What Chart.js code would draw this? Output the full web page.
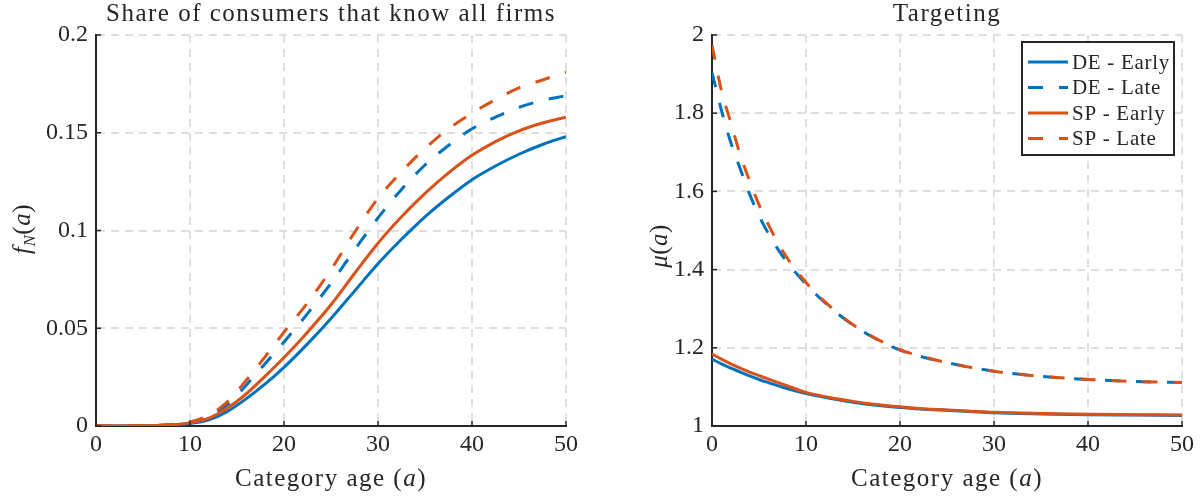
<!DOCTYPE html>
<html>
<head>
<meta charset="utf-8">
<script src="https://cdn.jsdelivr.net/npm/chart.js@4.4.1/dist/chart.umd.min.js"></script>
<style>
    body { margin: 0; background: #fff; }
    #wrap { position: relative; width: 1200px; height: 499px; }
    canvas { position: absolute; top: 0; }
</style>
</head>
<body>
<div id="wrap">
    <canvas id="shareChart" width="600" height="499" style="left:0"></canvas>
    <canvas id="targetChart" width="600" height="499" style="left:600px"></canvas>
</div>
<script>
// series names (same order in both panels)
const seriesLabels = ['DE - Early', 'DE - Late', 'SP - Early', 'SP - Late'];

// left panel: share of consumers that know all firms, f_N(a)
const ageShare = [0, 5, 8, 10, 12, 14, 16, 18, 20, 22.5, 25, 27.5, 30, 32.5, 35, 37.5, 40, 42.5, 45, 47.5, 50];
const deEarlyShare = [0, 0.0001, 0.0005, 0.0013, 0.0032, 0.0075, 0.0140, 0.0215, 0.030, 0.042, 0.055, 0.069, 0.083, 0.0955, 0.107, 0.117, 0.126, 0.133, 0.139, 0.144, 0.148];
const deLateShare = [0, 0.0001, 0.0007, 0.0019, 0.0048, 0.0110, 0.0210, 0.032, 0.043, 0.0575, 0.073, 0.090, 0.1065, 0.121, 0.1335, 0.1435, 0.152, 0.158, 0.163, 0.1665, 0.169];
const spEarlyShare = [0, 0.0001, 0.0006, 0.0016, 0.0040, 0.0092, 0.0165, 0.0255, 0.035, 0.048, 0.062, 0.078, 0.0935, 0.107, 0.119, 0.1295, 0.1385, 0.1455, 0.151, 0.155, 0.158];
const spLateShare = [0, 0.0001, 0.0008, 0.0021, 0.0055, 0.0125, 0.0235, 0.0355, 0.048, 0.063, 0.080, 0.099, 0.1165, 0.130, 0.142, 0.152, 0.160, 0.167, 0.173, 0.177, 0.181];

// right panel: targeting, mu(a)
const ageTarget = [0, 1, 2, 3, 4, 5, 6, 7.5, 10, 12.5, 15, 17.5, 20, 22.5, 25, 27.5, 30, 35, 40, 45, 50];
const deEarlyTarget = [1.171, 1.159, 1.148, 1.138, 1.128, 1.119, 1.111, 1.099, 1.083, 1.071, 1.061, 1.053, 1.047, 1.043, 1.040, 1.037, 1.034, 1.031, 1.029, 1.028, 1.027];
const deLateTarget = [1.904, 1.808, 1.725, 1.658, 1.593, 1.538, 1.492, 1.435, 1.363, 1.305, 1.258, 1.222, 1.194, 1.176, 1.162, 1.150, 1.140, 1.127, 1.119, 1.114, 1.111];
const spEarlyTarget = [1.184, 1.171, 1.159, 1.148, 1.138, 1.129, 1.120, 1.107, 1.086, 1.073, 1.063, 1.055, 1.049, 1.044, 1.041, 1.038, 1.035, 1.032, 1.030, 1.029, 1.028];
const spLateTarget = [1.974, 1.858, 1.776, 1.694, 1.627, 1.566, 1.515, 1.448, 1.367, 1.307, 1.259, 1.223, 1.195, 1.177, 1.162, 1.150, 1.140, 1.127, 1.119, 1.114, 1.111];

// axis ticks
const ageTicks = [0, 10, 20, 30, 40, 50];
const shareTicks = [0, 0.05, 0.1, 0.15, 0.2];
const targetTicks = [1, 1.2, 1.4, 1.6, 1.8, 2];

const BLUE = '#0072BD';
const ORANGE = '#D95319';
const INK = '#262626';
const GRID = '#dfdfdf';
const SERIF = '"Liberation Serif", "Times New Roman", serif';

function toPoints(xs, ys) {
    return xs.map((x, i) => ({ x: x, y: ys[i] }));
}

// "0.20" -> "0.2", "2.0" -> "2" like the original axes
function tickText(v) {
    return String(Number(Number(v).toFixed(4)));
}

// draws a row of text pieces (normal / italic / subscript) centred on cx
function drawRich(ctx, parts, cx, baseY, rot, spacing) {
    ctx.save();
    ctx.translate(cx, baseY);
    if (rot) ctx.rotate(rot);
    ctx.fillStyle = INK;
    ctx.textAlign = 'left';
    ctx.textBaseline = 'alphabetic';
    ctx.letterSpacing = spacing || '0px';
    let total = 0;
    parts.forEach(p => {
        ctx.font = (p.italic ? 'italic ' : '') + (p.size || 25) + 'px ' + SERIF;
        p.w = ctx.measureText(p.t).width;
        total += p.w;
    });
    let x = -total / 2;
    parts.forEach(p => {
        ctx.font = (p.italic ? 'italic ' : '') + (p.size || 25) + 'px ' + SERIF;
        ctx.fillText(p.t, x, p.dy || 0);
        x += p.w;
    });
    ctx.restore();
}

// titles, axis labels and inward tick marks
const decorPlugin = {
    id: 'decor',
    afterDraw(chart, args, opts) {
        const ctx = chart.ctx;
        const area = chart.chartArea;
        const cx = (area.left + area.right) / 2;
        drawRich(ctx, [{ t: opts.title }], cx, 21, 0, '1.5px');
        drawRich(ctx, [{ t: 'Category age (' }, { t: 'a', italic: true }, { t: ')' }], cx, 486, 0, '1.5px');
        drawRich(ctx, opts.yLabel, opts.yLabelX, opts.yLabelY, -Math.PI / 2, '0.5px');

        // MATLAB style ticks pointing into the plot
        ctx.save();
        ctx.strokeStyle = INK;
        ctx.lineWidth = 1.5;
        chart.scales.x.ticks.forEach(t => {
            const px = chart.scales.x.getPixelForValue(t.value);
            ctx.beginPath();
            ctx.moveTo(px, area.bottom);
            ctx.lineTo(px, area.bottom - 5);
            ctx.stroke();
        });
        chart.scales.y.ticks.forEach(t => {
            const py = chart.scales.y.getPixelForValue(t.value);
            ctx.beginPath();
            ctx.moveTo(area.left, py);
            ctx.lineTo(area.left + 5, py);
            ctx.stroke();
        });
        ctx.restore();
    }
};

// boxed legend inside the top right corner
const boxLegendPlugin = {
    id: 'boxLegend',
    afterDatasetsDraw(chart, args, opts) {
        if (!opts.show) return;
        const ctx = chart.ctx;
        const area = chart.chartArea;
        const w = 152, h = 113;
        const left = area.right - 8 - w;
        const top = area.top + 7;
        ctx.save();
        ctx.fillStyle = '#fff';
        ctx.fillRect(left, top, w, h);
        ctx.strokeStyle = INK;
        ctx.lineWidth = 2;
        ctx.strokeRect(left, top, w, h);
        seriesLabels.forEach((label, i) => {
            const ds = chart.data.datasets.find(d => d.label === label);
            const y = top + 20 + i * 25.5;
            ctx.strokeStyle = ds.borderColor;
            ctx.lineWidth = 3;
            ctx.setLineDash(ds.borderDash || []);
            ctx.beginPath();
            ctx.moveTo(left + 6, y);
            ctx.lineTo(left + 46, y);
            ctx.stroke();
            ctx.setLineDash([]);
            ctx.fillStyle = INK;
            ctx.font = '21px ' + SERIF;
            ctx.letterSpacing = '0.7px';
            ctx.textBaseline = 'middle';
            ctx.textAlign = 'left';
            ctx.fillText(label, left + 50, y + 1);
        });
        ctx.restore();
    }
};

function makeDatasets(xs, deEarly, deLate, spEarly, spLate) {
    const base = { pointRadius: 0, borderWidth: 3, fill: false, cubicInterpolationMode: 'monotone' };
    return [
        Object.assign({ label: seriesLabels[0], data: toPoints(xs, deEarly), borderColor: BLUE, order: 2 }, base),
        Object.assign({ label: seriesLabels[1], data: toPoints(xs, deLate), borderColor: BLUE, borderDash: [15, 16], order: 2 }, base),
        Object.assign({ label: seriesLabels[2], data: toPoints(xs, spEarly), borderColor: ORANGE, order: 1 }, base),
        Object.assign({ label: seriesLabels[3], data: toPoints(xs, spLate), borderColor: ORANGE, borderDash: [15, 16], order: 1 }, base)
    ];
}

function makeOptions(yMin, yMax, yTicks, axisWidth, padRight, decor, legendOn) {
    return {
        responsive: false,
        animation: false,
        events: [],
        layout: { padding: { top: 35, right: padRight, bottom: 0, left: 0 } },
        scales: {
            x: {
                type: 'linear',
                min: 0,
                max: 50,
                afterBuildTicks: s => { s.ticks = ageTicks.map(v => ({ value: v })); },
                afterFit: s => { s.height = 73; },
                grid: { color: GRID, lineWidth: 2, drawTicks: false },
                border: { color: INK, width: 2, dash: [8, 6] },
                ticks: { color: INK, padding: 4, font: { family: SERIF, size: 24 }, callback: tickText }
            },
            y: {
                min: yMin,
                max: yMax,
                afterBuildTicks: s => { s.ticks = yTicks.map(v => ({ value: v })); },
                afterFit: s => { s.width = axisWidth; },
                grid: { color: GRID, lineWidth: 2, drawTicks: false },
                border: { color: INK, width: 2, dash: [8, 6] },
                ticks: { color: INK, padding: 8, font: { family: SERIF, size: 24 }, callback: tickText }
            }
        },
        plugins: {
            legend: { display: false },
            tooltip: { enabled: false },
            decor: decor,
            boxLegend: { show: legendOn }
        }
    };
}

new Chart(document.getElementById('shareChart').getContext('2d'), {
    type: 'line',
    data: { datasets: makeDatasets(ageShare, deEarlyShare, deLateShare, spEarlyShare, spLateShare) },
    options: makeOptions(0, 0.2, shareTicks, 96, 34, {
        title: 'Share of consumers that know all firms',
        yLabel: [{ t: 'f', italic: true }, { t: 'N', italic: true, size: 17, dy: 5 }, { t: '(' }, { t: 'a', italic: true }, { t: ')' }],
        yLabelX: 30,
        yLabelY: 229
    }, false),
    plugins: [decorPlugin, boxLegendPlugin]
});

new Chart(document.getElementById('targetChart').getContext('2d'), {
    type: 'line',
    data: { datasets: makeDatasets(ageTarget, deEarlyTarget, deLateTarget, spEarlyTarget, spLateTarget) },
    options: makeOptions(1, 2, targetTicks, 112, 18, {
        title: 'Targeting',
        yLabel: [{ t: 'μ', italic: true }, { t: '(' }, { t: 'a', italic: true }, { t: ')' }],
        yLabelX: 67,
        yLabelY: 246
    }, true),
    plugins: [decorPlugin, boxLegendPlugin]
});
</script>
</body>
</html>
